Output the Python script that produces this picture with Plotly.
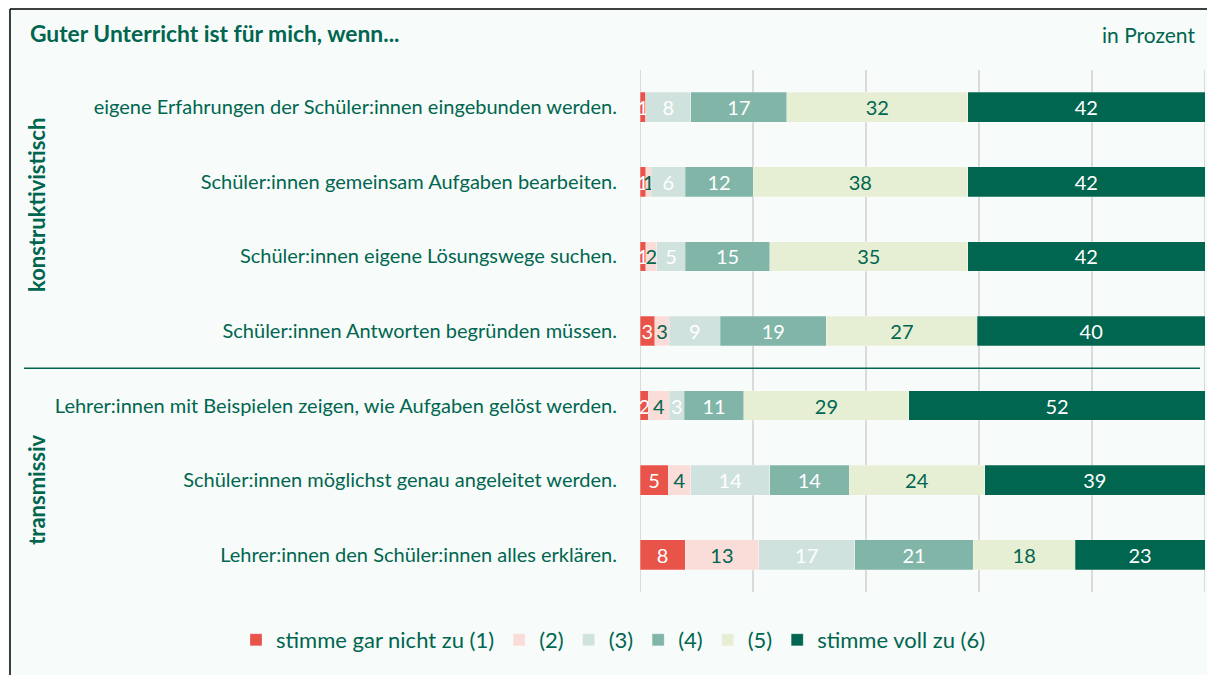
import plotly.graph_objects as go

categories = [
    "eigene Erfahrungen der Schüler:innen eingebunden werden.",
    "Schüler:innen gemeinsam Aufgaben bearbeiten.",
    "Schüler:innen eigene Lösungswege suchen.",
    "Schüler:innen Antworten begründen müssen.",
    "Lehrer:innen mit Beispielen zeigen, wie Aufgaben gelöst werden.",
    "Schüler:innen möglichst genau angeleitet werden.",
    "Lehrer:innen den Schüler:innen alles erklären.",
]
series_names = ["stimme gar nicht zu (1)", "(2)", "(3)", "(4)", "(5)", "stimme voll zu (6)"]
s1 = [1, 1, 1, 2.6, 1.5, 5, 8]
s2 = [0, 1, 2, 2.6, 3.7, 4, 13]
s3 = [8, 6, 5, 9, 2.6, 14, 17]
s4 = [17, 12, 15, 18.8, 10.6, 14, 21]
s5 = [32, 38, 35, 26.7, 29.2, 24, 18]
s6 = [42, 42, 42, 40.3, 52.4, 39, 23]
group_labels = ["konstruktivistisch", "transmissiv"]

colors = ["#E8534A", "#FADCD8", "#CFE2DD", "#80B5A8", "#E6EED4", "#00664F"]
text_colors = ["#FFFFFF", "#00664F", "#FFFFFF", "#FFFFFF", "#00664F", "#FFFFFF"]
dark = "#00664F"
FONT = "Lato"

fig = go.Figure()
for name, vals, col, tcol in zip(series_names, [s1, s2, s3, s4, s5, s6], colors, text_colors):
    fig.add_trace(go.Bar(
        y=categories, x=vals, name=name, orientation="h",
        marker=dict(color=col, line=dict(color="rgba(255,255,255,0.5)", width=0.5)),
        width=0.4,
        text=[f"{round(v)}" if v > 0 else "" for v in vals],
        texttemplate="%{text}",
        textposition="inside", insidetextanchor="middle",
        textangle=0,
        constraintext="none",
        textfont=dict(color=tcol, size=20, family=FONT),
        hoverinfo="x+y+name",
    ))

OFF = 8  # browser body margin
W, H = 1215 - OFF, 675 - OFF
L, R, T, B = 640 - OFF, 10, 70 - OFF, 83
pw, ph = W - L - R, H - T - B

def px(xpix):
    return (xpix - OFF - L) / pw

def py(ypix):
    return 1 + (T - (ypix - OFF)) / ph

shapes = [
    dict(type="line", xref="x", yref="paper", x0=0, x1=0, y0=0, y1=1, layer="below",
         line=dict(color="#DADADA", width=2)),
    dict(type="line", xref="x", yref="paper", x0=100, x1=100, y0=0, y1=1, layer="below",
         line=dict(color="#DADADA", width=2)),
    dict(type="line", xref="paper", yref="y", x0=px(24), x1=px(1200), y0=3.5, y1=3.5,
         line=dict(color=dark, width=1.5)),
    dict(type="line", xref="paper", yref="paper", x0=px(10), x1=px(1220), y0=py(9), y1=py(9),
         line=dict(color="#000000", width=1.5)),
    dict(type="line", xref="paper", yref="paper", x0=px(10), x1=px(10), y0=py(9), y1=py(690),
         line=dict(color="#000000", width=1.5)),
]

annotations = [
    dict(text="in Prozent", xref="paper", yref="paper", x=px(1197), y=py(34),
         xanchor="right", yanchor="middle", showarrow=False,
         font=dict(size=21, color=dark, family=FONT)),
    dict(text="<b>" + group_labels[0] + "</b>", xref="paper", yref="y", x=px(37), y=1.31,
         textangle=-90, xanchor="center", yanchor="middle", showarrow=False,
         font=dict(size=22, color=dark, family=FONT)),
    dict(text="<b>" + group_labels[1] + "</b>", xref="paper", yref="y", x=px(37), y=5.13,
         textangle=-90, xanchor="center", yanchor="middle", showarrow=False,
         font=dict(size=22, color=dark, family=FONT)),
]

fig.update_layout(
    width=W, height=H,
    barmode="stack",
    paper_bgcolor="#F7FBFA", plot_bgcolor="#F7FBFA",
    margin=dict(l=L, r=R, t=T, b=B, autoexpand=False),
    font=dict(family=FONT, color=dark, size=20),
    title=dict(text="<b>Guter Unterricht ist für mich, wenn...</b>", x=(30 - OFF) / W, xanchor="left",
               y=1 - (34 - OFF) / H, yanchor="middle", yref="container",
               font=dict(size=22.8, color=dark, family=FONT)),
    xaxis=dict(range=[0, 100], dtick=20, showgrid=True, gridcolor="#DADADA", gridwidth=2,
               showticklabels=False, zeroline=False, showline=False, fixedrange=True),
    yaxis=dict(autorange="reversed", showgrid=False, ticklabelstandoff=22,
               tickfont=dict(size=20, color=dark, family=FONT), showline=False, ticks=""),
    legend=dict(orientation="h", xref="paper", x=px(236), xanchor="left",
                yref="paper", y=py(640), yanchor="middle",
                font=dict(size=22, color=dark, family=FONT), traceorder="normal",
                itemwidth=30, bgcolor="rgba(0,0,0,0)"),
    shapes=shapes,
    annotations=annotations,
    showlegend=True,
)

fig.write_html("out.html")
